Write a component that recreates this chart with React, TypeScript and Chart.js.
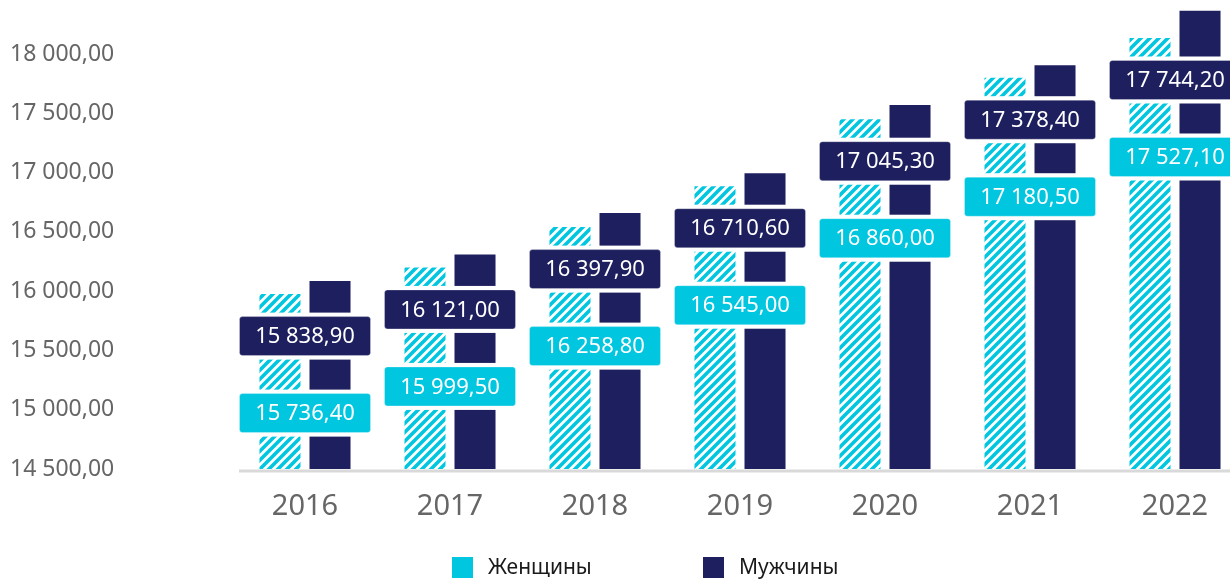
import React, { useEffect, useRef } from 'react';
import { Chart, registerables } from 'chart.js';

Chart.register(...registerables);

// ---- data ----
const categories = ['2016', '2017', '2018', '2019', '2020', '2021', '2022'];
const seriesNames = ['Женщины', 'Мужчины'];
// bar heights as drawn against the axis
const womenBars = [15975, 16200, 16540, 16885, 17450, 17800, 18135];
const menBars = [16085, 16310, 16660, 16995, 17570, 17905, 18365];
// values printed in the label boxes
const womenLabels = [15736.4, 15999.5, 16258.8, 16545.0, 16860.0, 17180.5, 17527.1];
const menLabels = [15838.9, 16121.0, 16397.9, 16710.6, 17045.3, 17378.4, 17744.2];
const yTicks = [14500, 15000, 15500, 16000, 16500, 17000, 17500, 18000];
const yMin = 14500;
const yMax = 18000;

const CYAN = '#00c6e0';
const NAVY = '#1e1f5f';
const FONT = '"Noto Sans", sans-serif';

function fmt(v: number): string {
  const [i, d] = v.toFixed(2).split('.');
  return i.replace(/\B(?=(\d{3})+(?!\d))/g, ' ') + ',' + d;
}

function makeHatch(): CanvasPattern | string {
  const s = 9;
  const c = document.createElement('canvas');
  c.width = s;
  c.height = s;
  const g = c.getContext('2d');
  if (!g) return CYAN;
  g.fillStyle = '#ffffff';
  g.fillRect(0, 0, s, s);
  g.strokeStyle = CYAN;
  g.lineWidth = 3.6;
  g.beginPath();
  g.moveTo(-2, 2);
  g.lineTo(2, -2);
  g.moveTo(-1, s + 1);
  g.lineTo(s + 1, -1);
  g.moveTo(s - 2, s + 2);
  g.lineTo(s + 2, s - 2);
  g.stroke();
  return g.createPattern(c, 'repeat') || CYAN;
}

function drawBox(ctx: CanvasRenderingContext2D, cx: number, cy: number, text: string, color: string) {
  const w = 131;
  const h = 39;
  ctx.fillStyle = '#ffffff';
  ctx.fillRect(cx - w / 2 - 4, cy - h / 2 - 4, w + 8, h + 8);
  ctx.beginPath();
  (ctx as any).roundRect(cx - w / 2, cy - h / 2, w, h, 3);
  ctx.fillStyle = color;
  ctx.fill();
  ctx.lineWidth = 1;
  ctx.strokeStyle = 'rgba(255,255,255,0.3)';
  ctx.stroke();
  ctx.fillStyle = '#ffffff';
  ctx.fillText(text, cx, cy + 1);
}

const boxLabelPlugin = {
  id: 'boxLabels',
  afterDatasetsDraw(chart: any) {
    const ctx: CanvasRenderingContext2D = chart.ctx;
    const area = chart.chartArea;
    ctx.save();
    ctx.fillStyle = '#d9d9d9';
    ctx.fillRect(239, area.bottom + 0.5, area.right - 239, 3);
    const wMeta = chart.getDatasetMeta(0);
    const mMeta = chart.getDatasetMeta(1);
    ctx.font = '22px ' + FONT;
    ctx.textAlign = 'center';
    ctx.textBaseline = 'middle';
    wMeta.data.forEach((bar: any, i: number) => {
      const cx = (bar.x + mMeta.data[i].x) / 2;
      const yTop = bar.y;
      drawBox(ctx, cx, yTop + 42, fmt(menLabels[i]), NAVY);
      drawBox(ctx, cx, yTop + 119, fmt(womenLabels[i]), CYAN);
    });
    ctx.restore();
  },
  afterDraw(chart: any) {
    const ctx: CanvasRenderingContext2D = chart.ctx;
    ctx.save();
    ctx.font = '21px ' + FONT;
    ctx.textAlign = 'left';
    ctx.textBaseline = 'middle';
    const colors = [CYAN, NAVY];
    const xs = [452, 703];
    seriesNames.forEach((name, i) => {
      ctx.fillStyle = colors[i];
      ctx.fillRect(xs[i], 557, 21, 21);
      ctx.fillStyle = '#1a1a1a';
      ctx.fillText(name, xs[i] + 36, 568);
    });
    ctx.restore();
  },
};

export default function App() {
  const ref = useRef<HTMLCanvasElement | null>(null);
  useEffect(() => {
    if (!ref.current) return;
    const hatch = makeHatch();
    const clipTopOpen = { left: 0, top: false, right: false, bottom: 0 };
    const chart = new Chart(ref.current, {
      type: 'bar',
      data: {
        labels: categories,
        datasets: [
          {
            label: seriesNames[0],
            data: womenBars,
            backgroundColor: hatch as any,
            borderWidth: 0,
            base: yMin,
            clip: clipTopOpen as any,
            categoryPercentage: 0.69,
            barPercentage: 0.82,
          },
          {
            label: seriesNames[1],
            data: menBars,
            backgroundColor: NAVY,
            borderWidth: 0,
            base: yMin,
            clip: clipTopOpen as any,
            categoryPercentage: 0.69,
            barPercentage: 0.82,
          },
        ],
      },
      options: {
        animation: false,
        responsive: false,
        events: [],
        layout: { padding: { top: 54, left: 10, right: 12.5, bottom: 37 } },
        plugins: {
          legend: { display: false },
          tooltip: { enabled: false },
          title: { display: false },
        },
        scales: {
          x: {
            grid: { display: false, drawTicks: false },
            border: { display: false },
            ticks: { color: '#666666', font: { family: FONT, size: 29 }, padding: 20 },
            afterFit: (s: any) => {
              s.height = 76;
            },
          },
          y: {
            min: yMin,
            max: yMax,
            grid: { display: false, drawTicks: false },
            border: { display: false },
            ticks: {
              color: '#666666',
              font: { family: FONT, size: 23 },
              padding: 0,
              crossAlign: 'far',
              callback: (v: any) => fmt(Number(v)),
            },
            afterBuildTicks: (s: any) => {
              s.ticks = yTicks.map((v) => ({ value: v }));
            },
            afterFit: (s: any) => {
              s.width = 222.5;
            },
          },
        },
      },
      plugins: [boxLabelPlugin],
    });
    return () => chart.destroy();
  }, []);
  return (
    <div
      style={{
        position: 'fixed',
        left: 0,
        top: 0,
        width: 1230,
        height: 582,
        overflow: 'hidden',
        background: '#ffffff',
      }}
    >
      <canvas ref={ref} width={1260} height={582} style={{ width: 1260, height: 582, display: 'block' }} />
    </div>
  );
}
